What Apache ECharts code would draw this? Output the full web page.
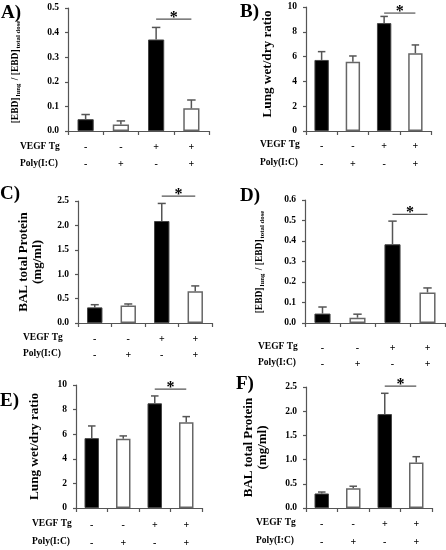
<!DOCTYPE html>
<html><head><meta charset="utf-8">
<script src="https://cdn.jsdelivr.net/npm/echarts@6/dist/echarts.min.js"></script>
<style>html,body{margin:0;padding:0;background:#fff}#c{width:446px;height:550px}</style>
</head><body><div id="c"></div>
<script>
// ---- data ----
const vegfTg = ['-', '-', '+', '+'];
const polyIC = ['-', '+', '-', '+'];
const rowLabels = ['VEGF Tg', 'Poly(I:C)'];
const panelLetters = ['A)', 'B)', 'C)', 'D)', 'E)', 'F)'];
const ebdTitle = '{m|[EBD]}{s|lung}{m| / [EBD]}{s|total dose}';
const wetDryTitle = 'Lung wet/dry ratio';
const balTitle = 'BAL total Protein\n(mg/ml)';

const meanA = [0.048, 0.026, 0.372, 0.092];
const semA  = [0.019, 0.015, 0.049, 0.034];
const sigA  = 0.455;
const meanB = [5.73, 5.59, 8.70, 6.27];
const semB  = [0.67, 0.46, 0.54, 0.67];
const sigB  = 9.51;
const meanC = [0.32, 0.36, 2.09, 0.65];
const semC  = [0.055, 0.03, 0.36, 0.11];
const sigC  = 2.60;
const meanD = [0.046, 0.026, 0.384, 0.149];
const semD  = [0.032, 0.017, 0.113, 0.022];
const sigD  = 0.530;
const meanE = [5.68, 5.62, 8.51, 6.97];
const semE  = [0.99, 0.24, 0.60, 0.46];
const sigE  = 9.67;
const meanF = [0.30, 0.41, 1.94, 0.94];
const semF  = [0.03, 0.04, 0.43, 0.12];
const sigF  = 2.52;

const yMax  = [0.5, 10, 2.5, 0.6, 10, 2.5];
const yStep = [0.1, 2, 0.5, 0.1, 2, 0.5];
const yDec  = [1, 0, 1, 1, 0, 1];

// ---- layout / styles ----
const FF = '"Liberation Serif", "Times New Roman", serif';
const AX = '#555';
const grids = [
  {left: 68,  top: 8,   width: 141, height: 123},
  {left: 306, top: 7,   width: 125, height: 124},
  {left: 78,  top: 201, width: 134, height: 122},
  {left: 305, top: 200, width: 140, height: 123},
  {left: 76,  top: 385, width: 126, height: 123},
  {left: 306, top: 387, width: 126, height: 121}
];
const xLab = [ // margin, lineHeight
  [8, 17], [6, 18], [8, 16], [17, 16], [8, 18], [7, 18]
];
const rowX = [20, 260, 23, 258, 32, 256];
const letterPos = [[1, 12], [240, 11], [0, 193], [240, 195], [0, 400], [236, 383]];
const titles = [ebdTitle, wetDryTitle, balTitle, ebdTitle, wetDryTitle, balTitle];
const titleGap = [46, 31, 33, 39, 34, 36];
const titlePad = [[0, 4, 0, 0], [0, 0, 0, 10], [0, 0, 0, 0], [0, 0, 0, 0], [0, 0, 0, 0], [0, 0, 0, 0]];
const means = [meanA, meanB, meanC, meanD, meanE, meanF];
const sems  = [semA, semB, semC, semD, semE, semF];
const sigs  = [sigA, sigB, sigC, sigD, sigE, sigF];
const barFill = ['#000', '#fff', '#000', '#fff'];
const categories = vegfTg.map((v, i) => v + '\n' + polyIC[i]);

function errRender(params, api) {
  const x = api.value(0), lo = api.value(1), hi = api.value(2);
  const p0 = api.coord([x, lo]), p1 = api.coord([x, hi]);
  const half = api.size([1, 0])[0] * 0.12;
  return {type: 'group', children: [
    {type: 'line', shape: {x1: p0[0], y1: p0[1], x2: p1[0], y2: p1[1]}, style: {stroke: AX, lineWidth: 1.5}},
    {type: 'line', shape: {x1: p1[0] - half, y1: p1[1], x2: p1[0] + half, y2: p1[1]}, style: {stroke: AX, lineWidth: 1.5}}
  ]};
}
function sigRender(params, api) {
  const a = api.coord([api.value(0), api.value(2)]);
  const b = api.coord([api.value(1), api.value(2)]);
  return {type: 'group', children: [
    {type: 'line', shape: {x1: a[0], y1: a[1], x2: b[0], y2: b[1]}, style: {stroke: AX, lineWidth: 1.2}},
    {type: 'text', x: (a[0] + b[0]) / 2, y: a[1] - 1,
     style: {text: '*', font: 'bold 16px ' + FF, fill: '#000', align: 'center', verticalAlign: 'middle'}}
  ]};
}

const option = {
  animation: false,
  backgroundColor: '#fff',
  grid: [], xAxis: [], yAxis: [], series: [], graphic: []
};

for (let k = 0; k < 6; k++) {
  const g = grids[k];
  option.grid.push(Object.assign({outerBoundsMode: 'none', containLabel: false}, g));
  option.xAxis.push({
    type: 'category', gridIndex: k, data: categories,
    axisLine: {lineStyle: {color: AX, width: 1.2}},
    axisTick: {show: true, length: 4, alignWithLabel: false, lineStyle: {color: AX, width: 1.2}},
    axisLabel: {margin: xLab[k][0], lineHeight: xLab[k][1], color: '#000',
      fontFamily: FF, fontWeight: 'bold', fontSize: 10, interval: 0}
  });
  const isEbd = titles[k] === ebdTitle;
  const isBal = titles[k] === balTitle;
  option.yAxis.push({
    type: 'value', gridIndex: k, min: 0, max: yMax[k], interval: yStep[k],
    splitLine: {show: false},
    axisLine: {show: true, lineStyle: {color: AX, width: 1.2}},
    axisTick: {show: true, length: 3, lineStyle: {color: AX, width: 1.2}},
    axisLabel: {margin: 9, color: '#000', fontFamily: FF, fontWeight: 'bold', fontSize: 9.5,
      formatter: (v) => v.toFixed(yDec[k])},
    name: titles[k], nameLocation: 'middle', nameRotate: 90, nameGap: titleGap[k],
    nameTextStyle: isEbd ? {
      padding: titlePad[k],
      rich: {
        m: {fontFamily: FF, fontWeight: 'bold', fontSize: 9.5, lineHeight: 13, color: '#000'},
        s: {fontFamily: FF, fontWeight: 'bold', fontSize: 6.8, lineHeight: 6, verticalAlign: 'bottom',
            color: '#000', padding: [0, 1, 0, 1]}
      }
    } : {fontFamily: FF, fontWeight: 'bold', fontSize: isBal ? 13 : 13.2, lineHeight: 14, color: '#000',
         padding: titlePad[k]}
  });
  option.series.push({
    type: 'bar', xAxisIndex: k, yAxisIndex: k, barWidth: '46%',
    data: means[k].map((v, i) => ({value: v, itemStyle: {
      color: barFill[i], borderColor: i % 2 ? '#666' : '#444', borderWidth: i % 2 ? 1.5 : 1}}))
  });
  option.series.push({
    type: 'custom', xAxisIndex: k, yAxisIndex: k, renderItem: errRender, z: 5,
    encode: {x: 0, y: [1, 2]},
    data: means[k].map((v, i) => [i, v, v + sems[k][i]])
  });
  option.series.push({
    type: 'custom', xAxisIndex: k, yAxisIndex: k, renderItem: sigRender, z: 5, clip: false,
    encode: {x: [0, 1], y: 2},
    data: [[2, 3, sigs[k]]]
  });
  const axisY = g.top + g.height;
  for (let r = 0; r < 2; r++) {
    option.graphic.push({type: 'text', left: rowX[k],
      top: axisY + xLab[k][0] + xLab[k][1] * (r + 0.5) - 6,
      style: {text: rowLabels[r], font: 'bold 9.5px ' + FF, fill: '#000'}});
  }
  option.graphic.push({type: 'text', left: letterPos[k][0], top: letterPos[k][1] - 8,
    style: {text: panelLetters[k], font: 'bold 19px ' + FF, fill: '#000'}});
}

const chart = echarts.init(document.getElementById('c'), null, {renderer: 'canvas'});
chart.setOption(option);
</script>
</body></html>
